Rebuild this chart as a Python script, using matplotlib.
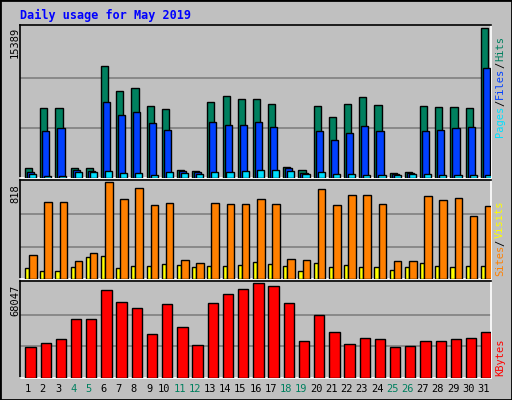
import matplotlib.pyplot as plt
import numpy as np

DAYS = list(range(1, 32))
WEEKENDS = [4, 5, 11, 12, 18, 19, 25, 26]
HITS = [975, 7137, 7137, 975, 975, 11524, 8913, 9226, 7346, 7033, 870, 766,
        7764, 8390, 8077, 8077, 7555, 1079, 870, 7346, 6302, 7555, 8286, 7451,
        557, 661, 7346, 7242, 7242, 7137, 15389]
FILES = [661, 4839, 5153, 870, 766, 7764, 6511, 6720, 5675, 4944, 766, 661,
         5780, 5466, 5466, 5780, 5257, 975, 557, 4839, 3900, 4631, 5362, 4839,
         453, 557, 4839, 4944, 5153, 5257, 11316]
PAGES = [453, 244, 244, 661, 661, 766, 557, 557, 348, 661, 557, 453,
         661, 661, 766, 870, 870, 766, 453, 661, 453, 453, 348, 348,
         348, 453, 453, 348, 348, 348, 348]
VISITS = [204, 649, 649, 151, 222, 818, 676, 765, 622, 640, 160, 133,
          640, 631, 631, 676, 631, 169, 160, 756, 622, 711, 711, 631,
          151, 151, 702, 667, 685, 534, 613]
SITES = [89, 71, 71, 98, 187, 196, 89, 107, 107, 124, 116, 98,
         107, 107, 116, 142, 124, 107, 71, 133, 98, 116, 98, 98,
         80, 98, 133, 107, 98, 107, 107]
KBYTES = [21854, 24834, 27815, 41972, 41972, 62831, 54636, 50166, 31540,
          53146, 36755, 23344, 53891, 59851, 63576, 68047, 65812, 53891,
          26324, 44950, 33030, 24089, 28560, 27815, 21854, 22599, 26324,
          26324, 27815, 28560, 33030]

BG = "#C0C0C0"
W, H = 512, 400
MONO = "DejaVu Sans Mono"


def box(fig, x0, y0, x1, y1):
    ax = fig.add_axes([x0 / W, 1 - y1 / H, (x1 - x0) / W, (y1 - y0) / H])
    ax.set_facecolor(BG)
    ax.set_xlim(0.5, 31.5)
    ax.set_xticks([])
    ax.set_yticks([])
    for side, col in [("top", "black"), ("left", "black"),
                      ("bottom", "white"), ("right", "white")]:
        ax.spines[side].set_color(col)
        ax.spines[side].set_linewidth(1.2)
    return ax


def grid(ax, top):
    ax.set_ylim(0, top * 1.02)
    for f in (1 / 3, 2 / 3):
        ax.axhline(top * f, color="#808080", lw=1.2, zorder=0)


fig = plt.figure(figsize=(W / 100, H / 100), dpi=100, facecolor=BG)
x = np.array(DAYS, dtype=float)
kw = dict(align="edge", edgecolor="black", linewidth=1, zorder=3)

ax1 = box(fig, 20, 25, 491, 178)
grid(ax1, max(HITS))
ax1.bar(x - 0.17, HITS, 0.47, color="#00805F", **kw)
ax1.bar(x - 0.04, FILES, 0.47, color="#0040FF", **kw)
ax1.bar(x + 0.09, PAGES, 0.47, color="#00E0FF", **kw)

ax2 = box(fig, 20, 180, 491, 279)
grid(ax2, max(VISITS))
ax2.bar(x - 0.17, SITES, 0.27, color="#FFFF00", **kw)
ax2.bar(x + 0.1, VISITS, 0.5, color="#FF8000", **kw)

ax3 = box(fig, 20, 281, 491, 378)
grid(ax3, max(KBYTES))
ax3.bar(x - 0.15, KBYTES, 0.68, color="#FF0000", **kw)

fig.text(20 / W, 1 - 15 / H, "Daily usage for May 2019", color="#0000FF",
         family=MONO, weight="bold", fontsize=8.5, va="center")

for y, val in [(27, HITS), (184, VISITS), (285, KBYTES)]:
    fig.text(15 / W, 1 - y / H, str(max(val)), rotation=90, ha="center",
             va="top", family=MONO, fontsize=7.5)

for d in DAYS:
    fig.text((20 + (d - 0.5) * 471 / 31) / W, 1 - 389 / H, str(d),
             ha="center", va="center", family=MONO, fontsize=7.5,
             color="#00805F" if d in WEEKENDS else "black")

# right-hand legends, stacked bottom-up
def legend(parts, y_bottom):
    y = y_bottom
    for txt, col in parts:
        t = fig.text(500 / W, 1 - y / H, txt, rotation=90, ha="center",
                     va="bottom", color=col, family=MONO, fontsize=7.5)
        y -= len(txt) * 5.7 + 2


legend([("Pages", "#00E0FF"), ("/", "black"), ("Files", "#0040FF"),
        ("/", "black"), ("Hits", "#00805F")], 137)
legend([("Sites", "#FF8000"), ("/", "black"), ("Visits", "#FFFF00")], 276)
legend([("KBytes", "#FF0000")], 376)

# outer frame
frame = fig.add_axes([0, 0, 1, 1], facecolor="none")
frame.set_xticks([])
frame.set_yticks([])
for s in frame.spines.values():
    s.set_linewidth(2)
    s.set_color("black")

fig.savefig("out.png", dpi=100, facecolor=BG)
